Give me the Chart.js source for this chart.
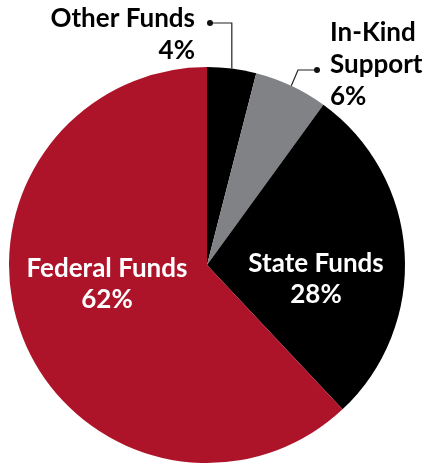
<!DOCTYPE html>
<html lang="en">
<head>
    <meta charset="UTF-8">
    <title>Funding Sources</title>
    <script src="https://cdn.jsdelivr.net/npm/chart.js"></script>
    <style>
        body { margin: 0; background: #fff; }
        #wrap { width: 430px; height: 465px; }
    </style>
</head>
<body>
    <div id="wrap"><canvas id="fundChart"></canvas></div>

    <script>
        const categories = ["Other Funds", "In-Kind Support", "State Funds", "Federal Funds"];
        const shares = [4, 6, 28, 62];
        const sliceColors = ["#000000", "#808285", "#000000", "#AE1429"];

        const FONT = "bold 26px Lato";

        // labels drawn by hand so they can sit outside with leader lines
        const labelPlugin = {
            id: "fundLabels",
            afterDatasetsDraw(chart) {
                const ctx = chart.ctx;
                const arcs = chart.getDatasetMeta(0).data;
                const cx = arcs[0].x, cy = arcs[0].y;

                function edgePoint(arc) {
                    const mid = (arc.startAngle + arc.endAngle) / 2;
                    return { x: arc.x + arc.outerRadius * Math.cos(mid), y: arc.y + arc.outerRadius * Math.sin(mid) };
                }
                function lines(textLines, x, y, step, align, color) {
                    ctx.fillStyle = color;
                    ctx.textAlign = align;
                    ctx.textBaseline = "alphabetic";
                    textLines.forEach((t, i) => ctx.fillText(t, x, y + i * step));
                }
                function dot(x, y) {
                    ctx.beginPath();
                    ctx.arc(x, y, 3, 0, Math.PI * 2);
                    ctx.fillStyle = "#111";
                    ctx.fill();
                }

                ctx.save();
                ctx.font = FONT;

                // inside labels
                lines([categories[3], shares[3] + "%"], cx - 100, cy + 12, 31, "center", "#fff");
                lines([categories[2], shares[2] + "%"], cx + 109, cy + 7, 31, "center", "#fff");

                // Other Funds, leader from top of slice
                lines([categories[0], shares[0] + "%"], cx - 12, cy - 238, 32, "right", "#000");
                let p = edgePoint(arcs[0]);
                ctx.strokeStyle = "#222";
                ctx.lineWidth = 1.2;
                ctx.beginPath();
                ctx.moveTo(p.x, p.y);
                ctx.lineTo(p.x, cy - 242);
                ctx.lineTo(cx + 3, cy - 242);
                ctx.stroke();
                dot(cx + 3, cy - 242);

                // In-Kind Support
                lines(["In-Kind", "Support", shares[1] + "%"], cx + 123, cy - 224, 32, "left", "#000");
                p = edgePoint(arcs[1]);
                ctx.beginPath();
                ctx.moveTo(p.x, p.y);
                ctx.lineTo(cx + 91, cy - 195);
                ctx.lineTo(cx + 110, cy - 195);
                ctx.stroke();
                dot(cx + 110, cy - 195);

                ctx.restore();
            }
        };

        new Chart(document.getElementById("fundChart"), {
            type: "pie",
            data: {
                labels: categories,
                datasets: [{
                    data: shares,
                    backgroundColor: sliceColors,
                    borderWidth: 0
                }]
            },
            options: {
                responsive: true,
                maintainAspectRatio: false,
                animation: false,
                layout: { padding: { top: 67, bottom: 2, left: 9, right: 25 } },
                plugins: {
                    legend: { display: false },
                    tooltip: { enabled: false }
                }
            },
            plugins: [labelPlugin]
        });
    </script>
</body>
</html>
